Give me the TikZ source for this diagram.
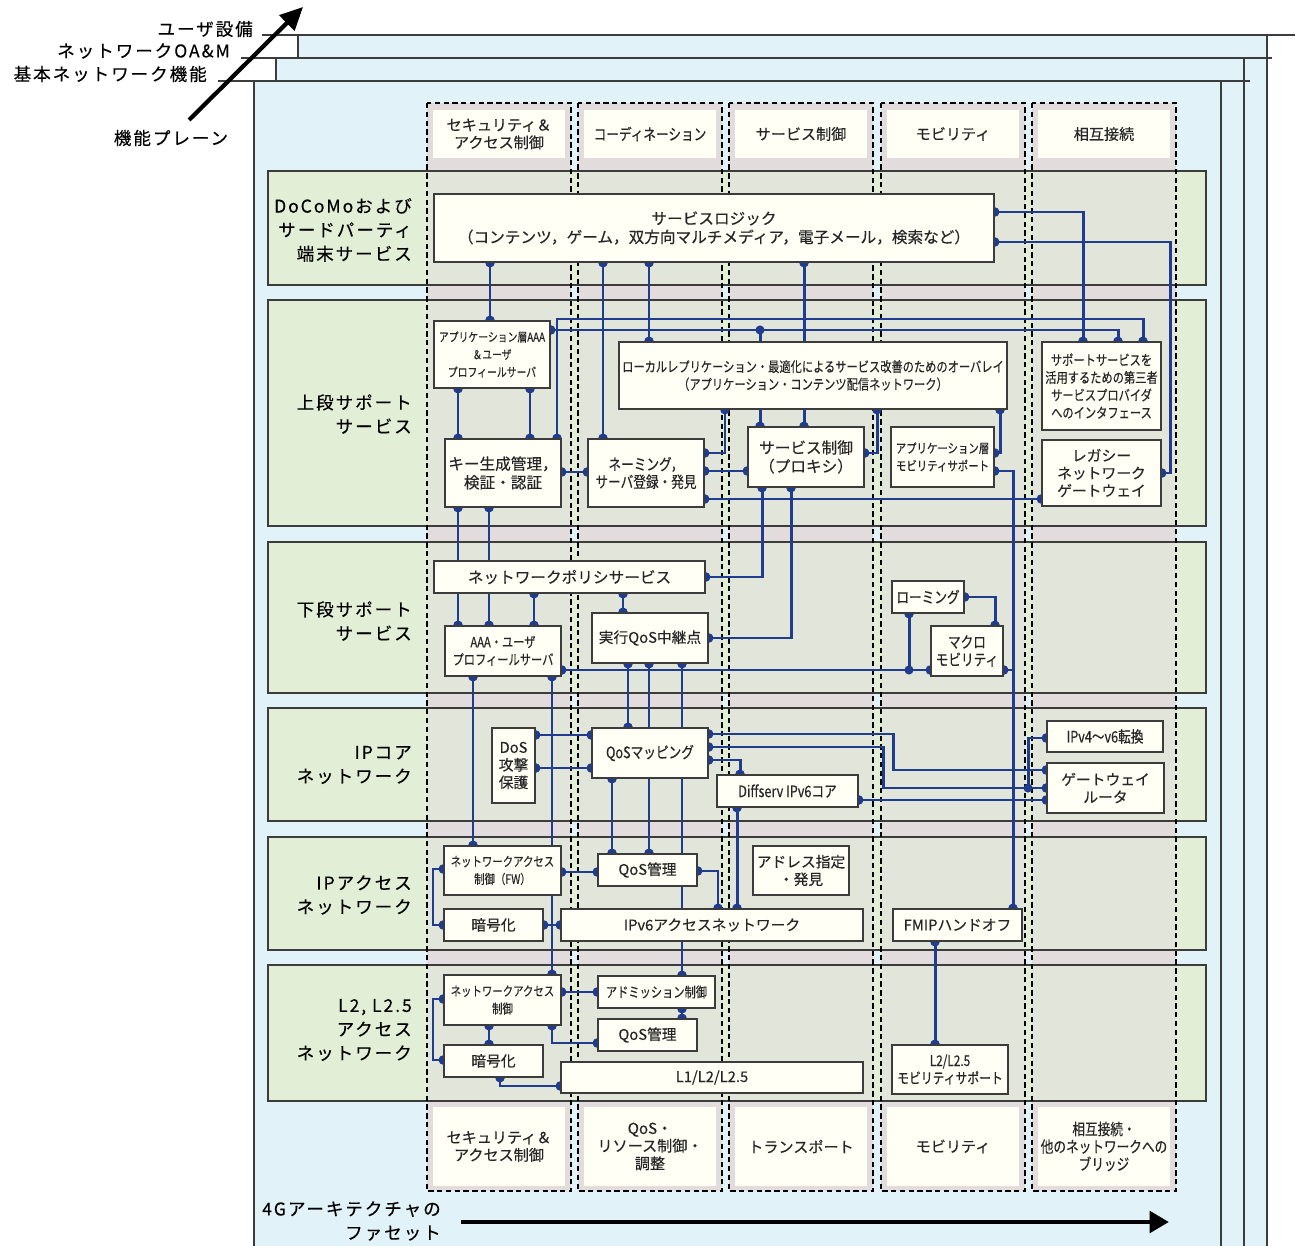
\documentclass[tikz,border=0pt]{standalone}
\usepackage{fontspec}
\setmainfont{Noto Sans CJK JP}[FakeBold=0.3]
\newfontfamily\condfont{Noto Sans CJK JP}[FakeStretch=0.8, FakeBold=0.3]
\newfontfamily\widefont{Noto Sans CJK JP}[LetterSpace=11, FakeBold=0.3]
\usetikzlibrary{arrows.meta}
\definecolor{planeblue}{HTML}{E1F2F9}
\definecolor{rowgreen}{HTML}{E2EFD6}
\definecolor{colpink}{HTML}{E2DDDC}
\definecolor{colgreen}{HTML}{E2E5D9}
\definecolor{cream}{HTML}{FFFFF6}
\definecolor{wire}{HTML}{1F3C8E}
\definecolor{rim}{HTML}{3C3C3C}
\pgfdeclarelayer{bg}
\pgfdeclarelayer{wires}
\pgfsetlayers{bg,wires,main}
\tikzset{
  span/.style n args={4}{at={({((#1)+(#3))/2},{((#2)+(#4))/2})}, minimum width={((#3)-(#1))*0.02cm}, minimum height={((#4)-(#2))*0.02cm}},
  box/.style={draw=rim, fill=cream, line width=0.7pt, inner sep=0pt, align=center, text=black!85, font=\fontsize{8.4}{10}\selectfont},
  bigbox/.style={box, font=\fontsize{8.9}{10.6}\selectfont},
  cbox/.style={box, font={\condfont\fontsize{#1}{10}\selectfont}},
  hdr/.style={fill=cream, inner sep=0pt, align=center, text=black!85, font=\fontsize{8.6}{10}\selectfont},
  chdr/.style={hdr, font={\condfont\fontsize{9}{10}\selectfont}},
  rowlabel/.style={anchor=east, align=right, font={\widefont\fontsize{10}{13.6}\selectfont}},
  planelabel/.style={anchor=east, font={\widefont\fontsize{10}{12}\selectfont}},
  plane/.style={draw=rim, line width=0.7pt},
  link/.style={draw=wire, line width=1.7pt, {Circle[length=5.4pt]}-{Circle[length=5.4pt]}, shorten <=-2.7pt, shorten >=-2.7pt},
  linkA/.style={draw=wire, line width=1.7pt, {Circle[length=5.4pt]}-, shorten <=-2.7pt},
  linkB/.style={draw=wire, line width=1.7pt, -{Circle[length=5.4pt]}, shorten >=-2.7pt}
}
\begin{document}
\begin{tikzpicture}[x=0.02cm, y=-0.02cm]
\useasboundingbox (0,0) rectangle (1299,1246);

\begin{pgfonlayer}{bg}
%planes
\fill[planeblue] (298,35) rectangle (1267,1246);
\draw[plane] (262,35) -- (1295,35) (298,35) -- (298,1246) (1267,35) -- (1267,1246);
\fill[planeblue] (276,58) rectangle (1244,1246);
\draw[plane] (241,58) -- (1272,58) (276,58) -- (276,1246) (1244,58) -- (1244,1246);
\fill[planeblue] (254,81) rectangle (1221,1246);
\draw[plane] (218,81) -- (1250,81) (254,81) -- (254,1246) (1221,81) -- (1221,1246);
%facets
\foreach \cx in {427,578,729,881,1032}
  \fill[colpink] (\cx,103) rectangle (\cx+144,1191);
%layers
\foreach \ya/\yb in {171/285,300/526,542/693,708/821,837/950,965/1101}{
  \fill[rowgreen] (268,\ya) rectangle (1206,\yb);
  \foreach \cx in {427,578,729,881,1032}
    \fill[colgreen] (\cx,\ya) rectangle (\cx+144,\yb);
  \draw[rim, line width=0.7pt] (268,\ya) rectangle (1206,\yb);
}
\foreach \cx in {427,578,729,881,1032}
  \draw[dash pattern=on 3pt off 2pt, line width=0.6pt] (\cx,103) rectangle (\cx+144,1191);
\end{pgfonlayer}

%facet headers
\foreach \cx/\hd/\fs [count=\n] in {427/{セキュリティ＆\\アクセス制御}/hdr, 578/{コーディネーション}/chdr, 729/{サービス制御}/hdr, 881/{モビリティ}/hdr, 1032/{相互接続}/hdr}
  \node[\fs, span={\cx+6}{110}{\cx+138}{158}] (top\n) {\hd};
\foreach \cx/\hd/\fs [count=\n] in {427/{セキュリティ＆\\アクセス制御}/hdr, 578/{QoS・\\リソース制御・\\調整}/hdr, 729/{トランスポート}/hdr, 881/{モビリティ}/hdr, 1032/{相互接続・\\他のネットワークへの\\ブリッジ}/chdr}
  \node[\fs, span={\cx+6}{1107}{\cx+138}{1186}] (bot\n) {\hd};

%plane labels
\node[planelabel] (ue) at (259,29) {ユーザ設備};
\node[planelabel] (oam) at (236,51) {ネットワークOA\&M};
\node[planelabel] (basic) at (213,74) {基本ネットワーク機能};
\node[planelabel, anchor=center] (fplane) at (171,138) {機能プレーン};
\draw[line width=2.4pt, -{Triangle[length=13pt,width=12pt]}] (189,120) -- (303,7);

%layer labels
\node[rowlabel] (r1) at (418,230) {DoCoMoおよび\\サードパーティ\\端末サービス};
\node[rowlabel] (r2) at (418,414) {上段サポート\\サービス};
\node[rowlabel] (r3) at (418,621) {下段サポート\\サービス};
\node[rowlabel] (r4) at (418,765) {IPコア\\ネットワーク};
\node[rowlabel] (r5) at (418,895) {IPアクセス\\ネットワーク};
\node[rowlabel] (r6) at (418,1030) {L2, L2.5\\アクセス\\ネットワーク};

%facet axis
\node[rowlabel] (facet) at (447,1221) {4Gアーキテクチャの\\ファセット};
\draw[line width=2.8pt, -{Triangle[length=11pt,width=12pt]}] (461,1222) -- (1169,1222);

%functions
\node[bigbox, span={434}{194}{994}{262}] (SL) {サービスロジック\\（コンテンツ，ゲーム，双方向マルチメディア，電子メール，検索など）};
\node[cbox=7, span={434}{321}{550}{388}] (AppAAA) {アプリケーション層AAA\\＆ユーザ\\プロフィールサーバ};
\node[cbox=8, span={619}{342}{1007}{409}] (Overlay) {ローカルレプリケーション・最適化によるサービス改善のためのオーバレイ\\（アプリケーション・コンテンツ配信ネットワーク）};
\node[cbox=8, span={1042}{342}{1161}{430}] (Third) {サポートサービスを\\活用するための第三者\\サービスプロバイダ\\へのインタフェース};
\node[bigbox, span={445}{439}{561}{507}] (KeyGen) {キー生成管理，\\検証・認証};
\node[cbox=9, span={588}{439}{704}{507}] (Naming) {ネーミング，\\サーバ登録・発見};
\node[bigbox, span={748}{427}{864}{487}] (SvcCtrl) {サービス制御\\（プロキシ）};
\node[cbox=7.4, span={891}{427}{994}{487}] (AppMob) {アプリケーション層\\モビリティサポート};
\node[box, span={1042}{440}{1161}{506}] (Legacy) {レガシー\\ネットワーク\\ゲートウェイ};
\node[bigbox, span={434}{561}{705}{593}] (NetPol) {ネットワークポリシサービス};
\node[cbox=8, span={445}{626}{561}{676}] (AAAUser) {AAA・ユーザ\\プロフィールサーバ};
\node[box, span={592}{613}{708}{663}] (QoSRelay) {実行QoS中継点};
\node[cbox=9, span={892}{581}{964}{613}] (Roaming) {ローミング};
\node[cbox=9, span={931}{626}{1003}{676}] (Macro) {マクロ\\モビリティ};
\node[box, span={492}{728}{535}{803}] (DoS) {DoS\\攻撃\\保護};
\node[cbox=9, span={592}{728}{708}{778}] (QoSMap) {QoSマッピング};
\node[cbox=9, span={717}{775}{858}{807}] (Diffserv) {Diffserv IPv6コア};
\node[cbox=9, span={1047}{721}{1163}{752}] (V4V6) {IPv4～v6転換};
\node[box, span={1047}{763}{1164}{813}] (GW) {ゲートウェイ\\ルータ};
\node[cbox=7.4, span={444}{846}{561}{895}] (NACFW) {ネットワークアクセス\\制御（FW）};
\node[box, span={598}{854}{697}{886}] (QoSMgA) {QoS管理};
\node[box, span={753}{846}{849}{895}] (Addr) {アドレス指定\\・発見};
\node[box, span={444}{909}{543}{941}] (EncA) {暗号化};
\node[box, span={561}{909}{863}{941}] (IPv6Acc) {IPv6アクセスネットワーク};
\node[box, span={893}{909}{1022}{941}] (FMIP) {FMIPハンドオフ};
\node[cbox=7.4, span={444}{975}{561}{1025}] (NACB) {ネットワークアクセス\\制御};
\node[cbox=8, span={598}{976}{715}{1008}] (Admit) {アドミッション制御};
\node[box, span={598}{1019}{697}{1051}] (QoSMgB) {QoS管理};
\node[box, span={444}{1045}{543}{1077}] (EncB) {暗号化};
\node[box, span={561}{1062}{863}{1093}] (LLayer) {L1/L2/L2.5};
\node[cbox=8.4, span={892}{1045}{1008}{1094}] (L2Mob) {L2/L2.5\\モビリティサポート};

%junctions
\coordinate (jA) at (760,330);
\coordinate (jB) at (909,670);
\coordinate (jC) at (1028,788);
\coordinate (jD) at (1013,670);

\begin{pgfonlayer}{wires}
%service logic
\draw[link] (SL.south -| 490,0) -- (AppAAA.north -| 490,0);
\draw[link] (SL.south -| 603,0) -- (Naming.north -| 603,0);
\draw[link] (SL.south -| 649,0) -- (Overlay.north -| 649,0);
\draw[link] (SL.south -| 804,0) -- (SvcCtrl.north -| 804,0);
\draw[link] (SL.east |- 0,212) -| (Third.north -| 1083,0);
\draw[link] (SL.east |- 0,242) -| (1170,473) -- (Legacy.east |- 0,473);
%upper support
\draw[link] (AppAAA.east |- 0,330) -| (Third.north -| 1118,0);
\draw[linkB] (jA) -- (SvcCtrl.north -| jA);
\draw[link] (KeyGen.north -| 557,0) |- (1143,319) -- (Third.north -| 1143,0);
\draw[link] (AppAAA.south -| 458,0) -- (KeyGen.north -| 458,0);
\draw[link] (AppAAA.south -| 530,0) -- (KeyGen.north -| 530,0);
\draw[link] (KeyGen.east |- 0,472) -- (Naming.west |- 0,472);
\draw[link] (Naming.east |- 0,453) -| (Overlay.south -| 725,0);
\draw[link] (Naming.east |- 0,471) -- (SvcCtrl.west |- 0,471);
\draw[link] (Naming.east |- 0,499) -- (Legacy.west |- 0,499);
\draw[link] (SvcCtrl.east |- 0,453) -| (Overlay.south -| 877,0);
\draw[link] (Overlay.south -| 1000,0) |- (AppMob.east |- 0,453);
\draw[link] (AppMob.east |- 0,471) -| (FMIP.north -| 1013,0);
%lower support
\draw[link] (KeyGen.south -| 458,0) -- (AAAUser.north -| 458,0);
\draw[link] (KeyGen.south -| 489,0) -- (AAAUser.north -| 489,0);
\draw[link] (NetPol.south -| 534,0) -- (AAAUser.north -| 534,0);
\draw[link] (SvcCtrl.south -| 762,0) |- (NetPol.east |- 0,577);
\draw[link] (SvcCtrl.south -| 791,0) |- (QoSRelay.east |- 0,638);
\draw[link] (NetPol.south -| 623,0) -- (QoSRelay.north -| 623,0);
\draw[link] (AAAUser.east |- 0,670) -- (Macro.west |- 0,670);
\draw[linkA] (Roaming.south -| jB) -- (jB);
\draw[link] (Roaming.east |- 0,597) -| (Macro.north -| 995,0);
\draw[linkA] (Macro.east |- jD) -- (jD);
%ip core
\draw[link] (AAAUser.south -| 473,0) -- (NACFW.north -| 473,0);
\draw[link] (AAAUser.south -| 552,0) -- (NACB.north -| 552,0);
\draw[link] (QoSRelay.south -| 628,0) -- (QoSMap.north -| 628,0);
\draw[link] (QoSRelay.south -| 649,0) -- (QoSMgA.north -| 649,0);
\draw[link] (QoSRelay.south -| 682,0) -- (Admit.north -| 682,0);
\draw[link] (DoS.east |- 0,735) -- (QoSMap.west |- 0,735);
\draw[link] (DoS.east |- 0,768) -- (QoSMap.west |- 0,768);
\draw[link] (QoSMap.east |- 0,734) -| (893,770) -- (GW.west |- 0,770);
\draw[link] (QoSMap.east |- 0,747) -| (883,788) -- (GW.west |- 0,788);
\draw[linkB] (jC) |- (V4V6.west |- 0,738);
\draw[link] (QoSMap.east |- 0,760) -| (Diffserv.north -| 740,0);
\draw[link] (Diffserv.east |- 0,800) -- (GW.west |- 0,800);
\draw[link] (QoSMap.south -| 612,0) -- (QoSMgA.north -| 612,0);
%ip access
\draw[link] (Diffserv.south -| 737,0) -- (IPv6Acc.north -| 737,0);
\draw[link] (NACFW.east |- 0,872) -- (QoSMgA.west |- 0,872);
\draw[link] (QoSMgA.east |- 0,871) -| (IPv6Acc.north -| 718,0);
\draw[link] (NACFW.west |- 0,869) -- (433,869) |- (EncA.west |- 0,925);
\draw[link] (EncA.east |- 0,925) -- (IPv6Acc.west |- 0,925);
%l2 access
\draw[link] (NACB.east |- 0,992) -- (Admit.west |- 0,992);
\draw[link] (NACB.west |- 0,999) -- (433,999) |- (EncB.west |- 0,1060);
\draw[link] (NACB.south -| 489,0) -- (EncB.north -| 489,0);
\draw[link] (NACB.south -| 552,0) |- (QoSMgB.west |- 0,1043);
\draw[link] (Admit.south -| 682,0) -- (QoSMgB.north -| 682,0);
\draw[link] (EncB.south -| 500,0) |- (LLayer.west |- 0,1086);
\draw[link] (FMIP.south -| 935,0) -- (L2Mob.north -| 935,0);
\foreach \j in {jA,jB,jC}
  \fill[wire] (\j) circle (2.6pt);
\end{pgfonlayer}
\end{tikzpicture}
\end{document}
